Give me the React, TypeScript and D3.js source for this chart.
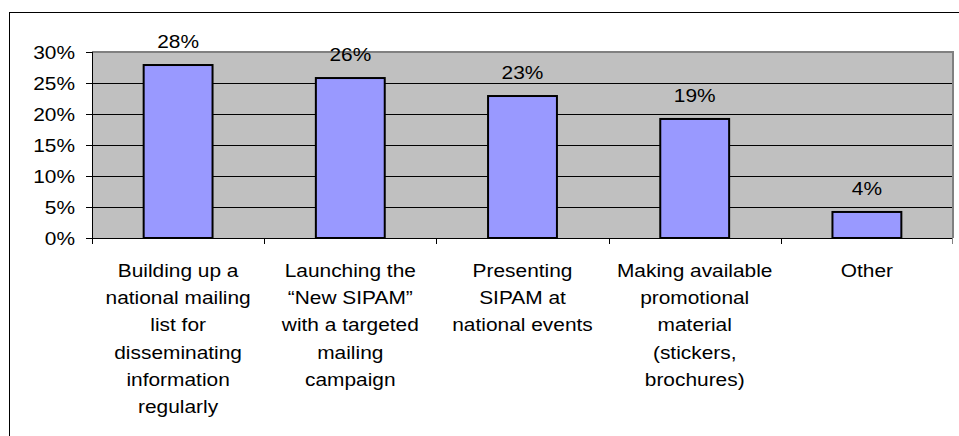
import React from "react";
import * as d3 from "d3";

// categories (as wrapped on the chart) and their values
const categories = ["build", "launch", "present", "promo", "other"];
const categoryLines = [
  ["Building up a", "national mailing", "list for", "disseminating", "information", "regularly"],
  ["Launching the", "\u201cNew SIPAM\u201d", "with a targeted", "mailing", "campaign"],
  ["Presenting", "SIPAM at", "national events"],
  ["Making available", "promotional", "material", "(stickers,", "brochures)"],
  ["Other"],
];
const values = [0.279, 0.258, 0.229, 0.192, 0.042];
const yTicks = [0, 0.05, 0.1, 0.15, 0.2, 0.25, 0.3];

const W = 959;
const H = 436;
const plot = { left: 92, right: 953, top: 52, bottom: 238 };
const FONT = "'Liberation Sans', Arial, sans-serif";
const FS = 18.5;
const SX = 1.13; // text in the original is a bit stretched sideways

function Txt({ x, y, anchor = "middle", children }: any) {
  return (
    <text
      transform={`translate(${x},${y}) scale(${SX},1)`}
      textAnchor={anchor}
      fontFamily={FONT}
      fontSize={FS}
      fill="#000"
    >
      {children}
    </text>
  );
}

export default function App() {
  const xBand = d3.scaleBand<string>().domain(categories).range([plot.left, plot.right]);
  const bw = xBand.bandwidth();
  const y = d3.scaleLinear().domain([0, 0.3]).range([plot.bottom, plot.top]);
  const pct = d3.format(".0%");

  return (
    <svg
      width={W}
      height={H}
      style={{ position: "absolute", left: 0, top: 0, background: "#fff" }}
    >
      {/* outer frame */}
      <rect x={9.5} y={12.5} width={960} height={440} fill="none" stroke="#000" strokeWidth={1} />

      {/* plot area */}
      <rect
        x={plot.left}
        y={plot.top}
        width={plot.right - plot.left}
        height={plot.bottom - plot.top}
        fill="#c0c0c0"
      />
      <path
        d={`M${plot.left},${plot.top}H${plot.right}V${plot.bottom}`}
        fill="none"
        stroke="#808080"
        strokeWidth={2}
      />

      {/* gridlines */}
      {yTicks.slice(1, -1).map((t) => (
        <line
          key={t}
          x1={plot.left}
          x2={plot.right - 1}
          y1={Math.round(y(t)) + 0.5}
          y2={Math.round(y(t)) + 0.5}
          stroke="#000"
          strokeWidth={1}
        />
      ))}

      {/* y axis */}
      <line x1={plot.left + 0.5} x2={plot.left + 0.5} y1={plot.top} y2={plot.bottom} stroke="#000" />
      {yTicks.map((t) => (
        <g key={t}>
          <line
            x1={plot.left - 6}
            x2={plot.left}
            y1={Math.round(y(t)) + 0.5}
            y2={Math.round(y(t)) + 0.5}
            stroke="#000"
          />
          <Txt x={75} y={y(t) + 6.5} anchor="end">
            {pct(t)}
          </Txt>
        </g>
      ))}

      {/* x axis */}
      <line x1={plot.left} x2={plot.right} y1={plot.bottom + 0.5} y2={plot.bottom + 0.5} stroke="#000" />
      {categories.map((c) => (
        <line
          key={c}
          x1={Math.round(xBand(c)!) + 0.5}
          x2={Math.round(xBand(c)!) + 0.5}
          y1={plot.bottom}
          y2={plot.bottom + 6}
          stroke="#000"
        />
      ))}
      <line
        x1={plot.right - 0.5}
        x2={plot.right - 0.5}
        y1={plot.bottom}
        y2={plot.bottom + 6}
        stroke="#808080"
      />

      {/* bars */}
      {categories.map((c, i) => {
        const x0 = xBand(c)! + bw * 0.3;
        return (
          <g key={c}>
            <rect
              x={x0}
              y={y(values[i])}
              width={bw * 0.4}
              height={plot.bottom - y(values[i])}
              fill="#9999ff"
              stroke="#000"
              strokeWidth={2}
            />
            <Txt x={xBand(c)! + bw / 2} y={y(values[i]) - 17}>
              {pct(values[i])}
            </Txt>
          </g>
        );
      })}

      {/* category labels */}
      {categories.map((c, i) => (
        <g key={c}>
          {categoryLines[i].map((line, j) => (
            <Txt key={j} x={xBand(c)! + bw / 2} y={277 + j * 27.2}>
              {line}
            </Txt>
          ))}
        </g>
      ))}
    </svg>
  );
}
